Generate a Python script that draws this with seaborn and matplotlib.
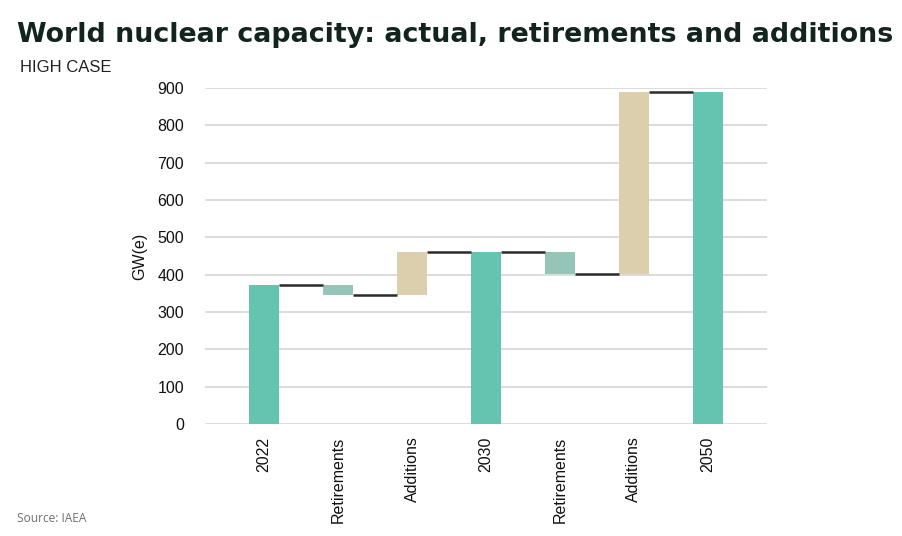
import pandas as pd
import matplotlib
matplotlib.use("Agg")
import matplotlib.pyplot as plt
import seaborn as sns

# --- data (GW(e), IAEA high case) ---
step_labels = ["2022", "Retirements", "Additions", "2030", "Retirements", "Additions", "2050"]
step_kinds = ["total", "retire", "add", "total", "retire", "add", "total"]
step_values = [371, -25, 115, 461, -60, 489, 890]

kind_colors = {"total": "#64c4b0", "retire": "#95c5b7", "add": "#dccfae"}

# running totals -> floating bar bottoms / heights
bottoms, heights, levels = [], [], []
level = 0
for kind, val in zip(step_kinds, step_values):
    if kind == "total":
        bottoms.append(0)
        heights.append(val)
        level = val
    else:
        new_level = level + val
        bottoms.append(min(level, new_level))
        heights.append(abs(val))
        level = new_level
    levels.append(level)

df = pd.DataFrame({
    "step": [f"s{i}" for i in range(len(step_labels))],
    "height": heights,
    "bottom": bottoms,
    "kind": step_kinds,
})

sns.set_theme(style="whitegrid")
plt.rcParams["font.family"] = ["Liberation Sans", "DejaVu Sans"]

fig = plt.figure(figsize=(9.03, 5.36), dpi=100)
ax = fig.add_axes([205 / 903, 1 - 424 / 536, (767 - 205) / 903, (424 - 88) / 536])

bar_w = 0.4
sns.barplot(data=df, x="step", y="height", ax=ax, errorbar=None, width=bar_w,
            color=kind_colors["total"], saturation=1,
            bottom=df["bottom"].values,
            facecolor=[kind_colors[k] for k in df["kind"]],
            linewidth=0, zorder=3)

# connector lines between bars
for i in range(len(levels) - 1):
    ax.hlines(levels[i], i + bar_w / 2, i + 1 - bar_w / 2,
              color="#2b2b2b", linewidth=1.8, zorder=4)

ax.set_xlim(-0.8, 6.8)
ax.set_ylim(0, 900)
ax.set_yticks(range(0, 901, 100))
ax.set_xticks(range(len(step_labels)))
ax.set_xticklabels(step_labels, rotation=90, fontsize=11.5, color="#111111")
ax.tick_params(axis="y", labelsize=11.5, labelcolor="#111111", length=0, pad=15)
ax.tick_params(axis="x", length=0, pad=9)
ax.grid(axis="x", visible=False)
ax.grid(axis="y", color="#d9d9d9", linewidth=1.3, zorder=0)
ax.set_axisbelow(True)
for s in ax.spines.values():
    s.set_visible(False)
ax.set_xlabel("")
ax.set_ylabel("GW(e)", fontsize=11.5, color="#111111", labelpad=7)

title = fig.text(17 / 903, 1 - 35 / 536,
                 "World nuclear capacity: actual, retirements and additions",
                 fontsize=20, fontweight="bold", color="#13241f", family=["DejaVu Sans"],
                 va="center", ha="left")
# shrink title so it spans the same width as the reference heading
renderer = fig.canvas.get_renderer()
w = title.get_window_extent(renderer).width
title.set_fontsize(20 * (893 - 17) / w)

fig.text(20 / 903, 1 - 68 / 536, "HIGH CASE", fontsize=12, color="#222222",
         va="center", ha="left")
fig.text(17 / 903, 1 - 518 / 536, "Source: IAEA", fontsize=8.6, color="#6e6e6e",
         family=["Open Sans", "DejaVu Sans"], va="center", ha="left")

fig.savefig("out.png", dpi=100)
